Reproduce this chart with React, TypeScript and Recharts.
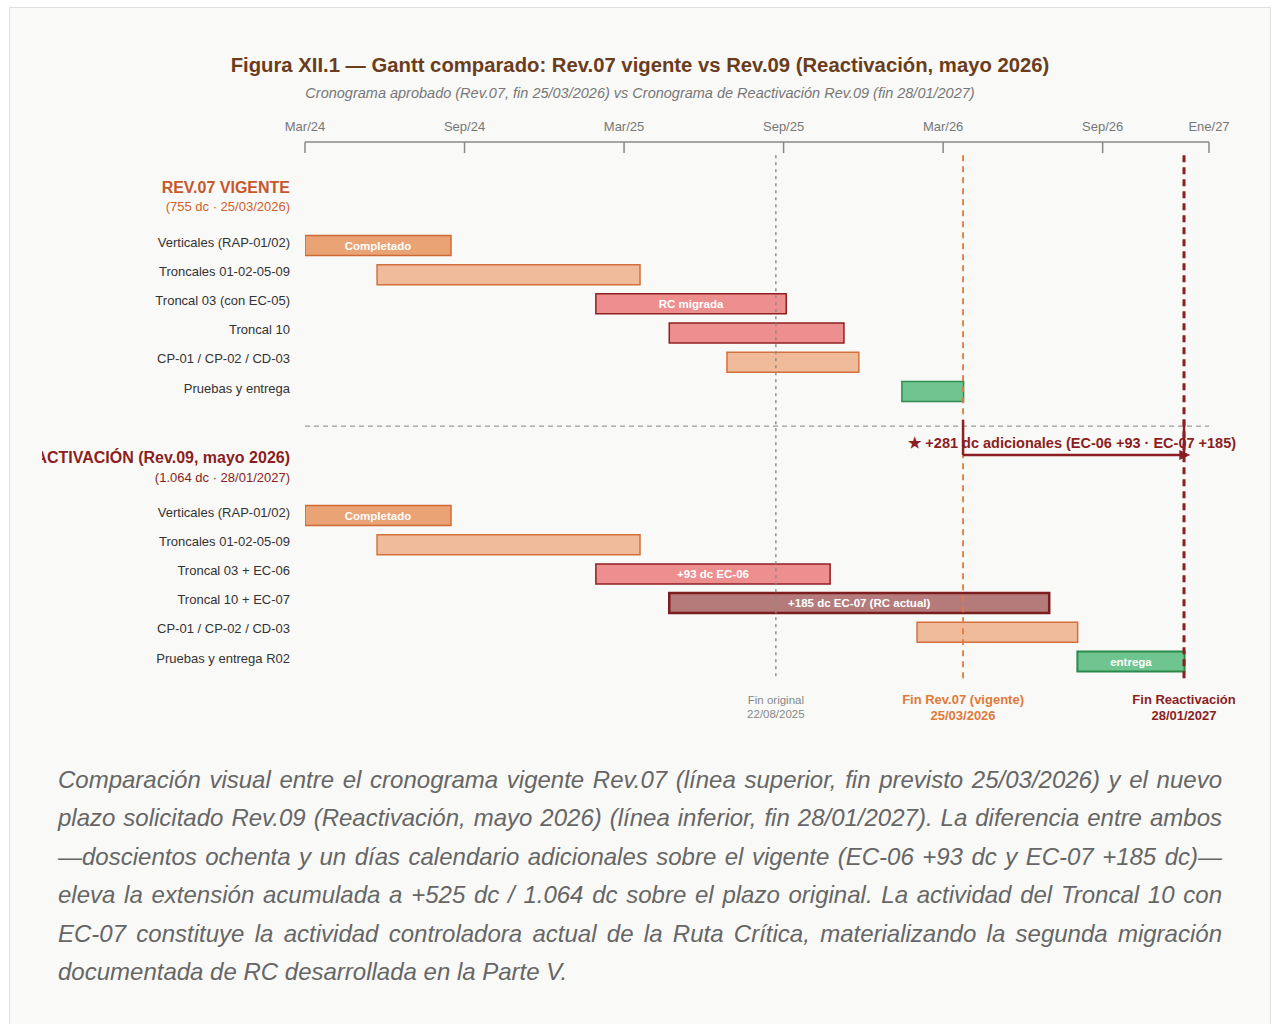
import React from 'react';
import { ComposedChart, Bar, Cell, XAxis, YAxis, ReferenceLine, LabelList } from 'recharts';

// time axis in months since Mar/24
const monthTicks = [0, 6, 12, 18, 24, 30, 34];
const monthLabels = ['Mar/24', 'Sep/24', 'Mar/25', 'Sep/25', 'Mar/26', 'Sep/26', 'Ene/27'];

const topTasks = ['Verticales (RAP-01/02)', 'Troncales 01-02-05-09', 'Troncal 03 (con EC-05)', 'Troncal 10', 'CP-01 / CP-02 / CD-03', 'Pruebas y entrega'];
const topStart = [0, 2.71, 10.94, 13.7, 15.87, 22.45];
const topEnd = [5.49, 12.6, 18.1, 20.27, 20.83, 24.77];
const topKinds = ['done', 'light', 'rc', 'rc', 'light', 'green'];
const topTags = ['Completado', '', 'RC migrada', '', '', ''];

const bottomTasks = ['Verticales (RAP-01/02)', 'Troncales 01-02-05-09', 'Troncal 03 + EC-06', 'Troncal 10 + EC-07', 'CP-01 / CP-02 / CD-03', 'Pruebas y entrega R02'];
const bottomStart = [0, 2.71, 10.94, 13.7, 23.02, 29.05];
const bottomEnd = [5.49, 12.6, 19.75, 27.99, 29.06, 33.08];
const bottomKinds = ['done', 'light', 'rc', 'rcDark', 'light', 'green2'];
const bottomTags = ['Completado', '', '+93 dc EC-06', '+185 dc EC-07 (RC actual)', '', 'entrega'];

// milestones (months since Mar/24)
const finOriginal = 17.71;
const finRev07 = 24.75;
const finReact = 33.06;

const BOTTOM_OFFSET = 9.25;
const SEPARATOR_ROW = 6.2;
const TOP_HEADER_ROW = -2;
const BOTTOM_HEADER_ROW = 7.26;

const kindStyle: Record<string, { fill: string; stroke: string; sw: number }> = {
  done: { fill: '#e9a375', stroke: '#cf6a35', sw: 1.5 },
  light: { fill: '#efbb9a', stroke: '#d4703d', sw: 1.5 },
  rc: { fill: '#ec8f8e', stroke: '#8e2024', sw: 1.5 },
  rcDark: { fill: '#b57b7a', stroke: '#7c1d1f', sw: 2.5 },
  green: { fill: '#70c48f', stroke: '#2e8b50', sw: 1.5 },
  green2: { fill: '#70c48f', stroke: '#2a8a4c', sw: 2 },
};

const tasks = [
  ...topTasks.map((name, i) => ({ name, row: i, span: [topStart[i], topEnd[i]], kind: topKinds[i], tag: topTags[i] })),
  ...bottomTasks.map((name, i) => ({ name, row: i + BOTTOM_OFFSET, span: [bottomStart[i], bottomEnd[i]], kind: bottomKinds[i], tag: bottomTags[i] })),
];

const yTicks = [TOP_HEADER_ROW, ...tasks.map((t) => t.row), BOTTOM_HEADER_ROW];

const FONT = '"Liberation Sans", Arial, sans-serif';
const DARK_RED = '#8b1e22';
const ORANGE = '#d0612e';

const XTick = (props: any) => {
  const { x, y, payload } = props;
  const idx = monthTicks.indexOf(payload.value);
  return (
    <g>
      <line x1={x} y1={y} x2={x} y2={y + 11} stroke="#888" strokeWidth={1.5} />
      <text x={x} y={y - 11.5} textAnchor="middle" fontSize={13} fill="#777" fontFamily={FONT}>
        {monthLabels[idx]}
      </text>
    </g>
  );
};

const YTick = (props: any) => {
  const { x, y, payload } = props;
  const v = payload.value;
  if (v === TOP_HEADER_ROW) {
    return (
      <g fontFamily={FONT} textAnchor="end">
        <text x={x} y={y + 6.5} fontSize={16} fontWeight="bold" fill="#c8582a">REV.07 VIGENTE</text>
        <text x={x} y={y + 24.5} fontSize={13} fill={ORANGE}>(755 dc · 25/03/2026)</text>
      </g>
    );
  }
  if (v === BOTTOM_HEADER_ROW) {
    return (
      <g fontFamily={FONT} textAnchor="end">
        <text x={x} y={y + 6} fontSize={16} fontWeight="bold" fill={DARK_RED}>REACTIVACIÓN (Rev.09, mayo 2026)</text>
        <text x={x} y={y + 24.5} fontSize={13} fill={DARK_RED}>(1.064 dc · 28/01/2027)</text>
      </g>
    );
  }
  const t = tasks.find((d) => d.row === v);
  return (
    <text x={x} y={y + 1.5} textAnchor="end" fontSize={13} fill="#333" fontFamily={FONT}>
      {t ? t.name : ''}
    </text>
  );
};

const milestoneShape = (color: string, width: number, dash: string, line1: string, line2: string, bold: boolean) => (p: any) => {
  const { x1, y1, x2, y2 } = p;
  const fs = bold ? 13 : 11.5;
  const tcolor = bold ? color : '#888';
  const yb = Math.max(y1, y2);
  return (
    <g>
      <line x1={x1} y1={y1} x2={x2} y2={y2} stroke={color} strokeWidth={width} strokeDasharray={dash} />
      <text x={x2} y={yb + 24} textAnchor="middle" fontSize={fs} fontWeight={bold ? 'bold' : 'normal'} fill={tcolor} fontFamily={FONT}>{line1}</text>
      <text x={x2} y={yb + (bold ? 40 : 38)} textAnchor="middle" fontSize={fs} fontWeight={bold ? 'bold' : 'normal'} fill={tcolor} fontFamily={FONT}>{line2}</text>
    </g>
  );
};

const arrowShape = (p: any) => {
  const { x1, y1, x2, y2 } = p;
  return (
    <g>
      <line x1={x1} y1={y1} x2={x2 - 4} y2={y2} stroke={DARK_RED} strokeWidth={2.5} />
      <polygon points={`${x2 + 5},${y2} ${x2 - 6},${y2 - 5} ${x2 - 6},${y2 + 5}`} fill={DARK_RED} />
      <text x={(x1 + x2) / 2 - 2} y={y1 - 7} textAnchor="middle" fontSize={14.5} fontWeight="bold" fill={DARK_RED} fontFamily={FONT}>
        ★ +281 dc adicionales (EC-06 +93 · EC-07 +185)
      </text>
    </g>
  );
};

const App: React.FC = () => {
  return (
    <div
      style={{
        position: 'absolute',
        left: 9,
        top: 7,
        width: 1260,
        height: 1040,
        border: '1px solid #e0e0dc',
        background: '#f9f9f7',
        fontFamily: FONT,
      }}
    >
      <div style={{ position: 'absolute', top: 45, left: 0, width: 1260, textAlign: 'center', fontSize: 20.3, lineHeight: '24px', fontWeight: 'bold', color: '#6b3d1c' }}>
        Figura XII.1 — Gantt comparado: Rev.07 vigente vs Rev.09 (Reactivación, mayo 2026)
      </div>
      <div style={{ position: 'absolute', top: 76, left: 0, width: 1260, textAlign: 'center', fontSize: 14.5, lineHeight: '18px', fontStyle: 'italic', color: '#777' }}>
        Cronograma aprobado (Rev.07, fin 25/03/2026) vs Cronograma de Reactivación Rev.09 (fin 28/01/2027)
      </div>
      <div style={{ position: 'absolute', top: 102, left: 32 }}>
        <ComposedChart
          width={1208}
          height={620}
          data={tasks}
          layout="vertical"
          margin={{ top: 0, right: 41, bottom: 40, left: 0 }}
        >
          <XAxis
            type="number"
            orientation="top"
            domain={[0, 34]}
            ticks={monthTicks}
            interval={0}
            allowDataOverflow
            height={32}
            tickSize={0}
            tickMargin={0}
            tickLine={false}
            axisLine={{ stroke: '#888', strokeWidth: 1.5 }}
            tick={<XTick />}
          />
          <YAxis
            type="number"
            dataKey="row"
            domain={[-3.53, 15.24]}
            allowDataOverflow
            ticks={yTicks}
            interval={0}
            width={263}
            tickSize={0}
            tickMargin={15}
            axisLine={false}
            tickLine={false}
            tick={<YTick />}
          />
          <Bar dataKey="span" barSize={20} isAnimationActive={false}>
            {tasks.map((t, i) => (
              <Cell key={`c-${i}`} fill={kindStyle[t.kind].fill} stroke={kindStyle[t.kind].stroke} strokeWidth={kindStyle[t.kind].sw} />
            ))}
            <LabelList dataKey="tag" position="center" fill="#fff" fontSize={11.5} fontWeight="bold" fontFamily={FONT} />
          </Bar>
          <ReferenceLine y={SEPARATOR_ROW} stroke="#999" strokeWidth={1.2} strokeDasharray="5 4" />
          <ReferenceLine
            segment={[{ x: finOriginal, y: -3.08 }, { x: finOriginal, y: 14.9 }]}
            shape={milestoneShape('#888', 1.4, '3 4', 'Fin original', '22/08/2025', false)}
          />
          <ReferenceLine
            segment={[{ x: finRev07, y: -3.08 }, { x: finRev07, y: 14.9 }]}
            shape={milestoneShape('#e07a3a', 1.8, '6 5', 'Fin Rev.07 (vigente)', '25/03/2026', true)}
          />
          <ReferenceLine
            segment={[{ x: finReact, y: -3.08 }, { x: finReact, y: 14.9 }]}
            shape={milestoneShape(DARK_RED, 3, '7 5', 'Fin Reactivación', '28/01/2027', true)}
          />
          <ReferenceLine segment={[{ x: finRev07, y: 5.99 }, { x: finRev07, y: 7.19 }]} stroke={DARK_RED} strokeWidth={2.5} />
          <ReferenceLine segment={[{ x: finReact, y: 5.99 }, { x: finReact, y: 7.19 }]} stroke={DARK_RED} strokeWidth={2.5} />
          <ReferenceLine segment={[{ x: finRev07, y: 7.19 }, { x: finReact + 0.05, y: 7.19 }]} shape={arrowShape} />
        </ComposedChart>
      </div>
      <div
        style={{
          position: 'absolute',
          top: 753,
          left: 48,
          width: 1164,
          fontSize: 24,
          lineHeight: '38.4px',
          fontStyle: 'italic',
          color: '#666',
          textAlign: 'justify',
        }}
      >
        Comparación visual entre el cronograma vigente Rev.07 (línea superior, fin previsto 25/03/2026) y el nuevo plazo solicitado Rev.09 (Reactivación, mayo 2026) (línea inferior, fin 28/01/2027). La diferencia entre ambos —doscientos ochenta y un días calendario adicionales sobre el vigente (EC-06 +93 dc y EC-07 +185 dc)— eleva la extensión acumulada a +525 dc / 1.064 dc sobre el plazo original. La actividad del Troncal 10 con EC-07 constituye la actividad controladora actual de la Ruta Crítica, materializando la segunda migración documentada de RC desarrollada en la Parte V.
      </div>
    </div>
  );
};

export default App;
